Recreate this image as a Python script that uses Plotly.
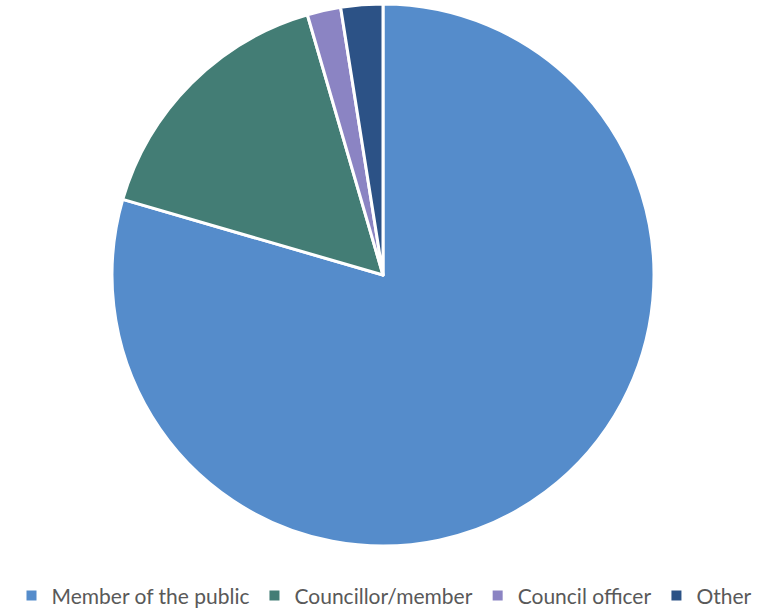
import plotly.graph_objects as go

labels = ["Member of the public", "Councillor/member", "Council officer", "Other"]
values = [79.5, 16.0, 2.0, 2.5]
colors = ["#558CCB", "#437D75", "#8B84C3", "#2C5286"]

W, H = 769, 609
cx, cy, r = 383, 275, 271

fig = go.Figure(go.Pie(
    labels=labels,
    values=values,
    sort=False,
    direction="clockwise",
    rotation=0,
    textinfo="none",
    hoverinfo="label+percent",
    marker=dict(colors=colors, line=dict(color="white", width=3)),
    domain=dict(x=[(cx - r) / W, (cx + r) / W],
                y=[max(0, (H - cy - r) / H), min(1, (H - cy + r) / H)]),
))

fig.update_layout(
    width=W, height=H,
    margin=dict(l=0, r=0, t=0, b=0, autoexpand=False),
    paper_bgcolor="white",
    showlegend=True,
    legend=dict(
        orientation="h",
        x=0.5, xanchor="center",
        y=-0.012, yanchor="bottom",
        font=dict(family="Lato", size=21, color="#595959"),
        itemsizing="constant",
    ),
)

fig.write_html("out.html", config={"displayModeBar": False},
               post_script="document.body.style.margin='0';")
